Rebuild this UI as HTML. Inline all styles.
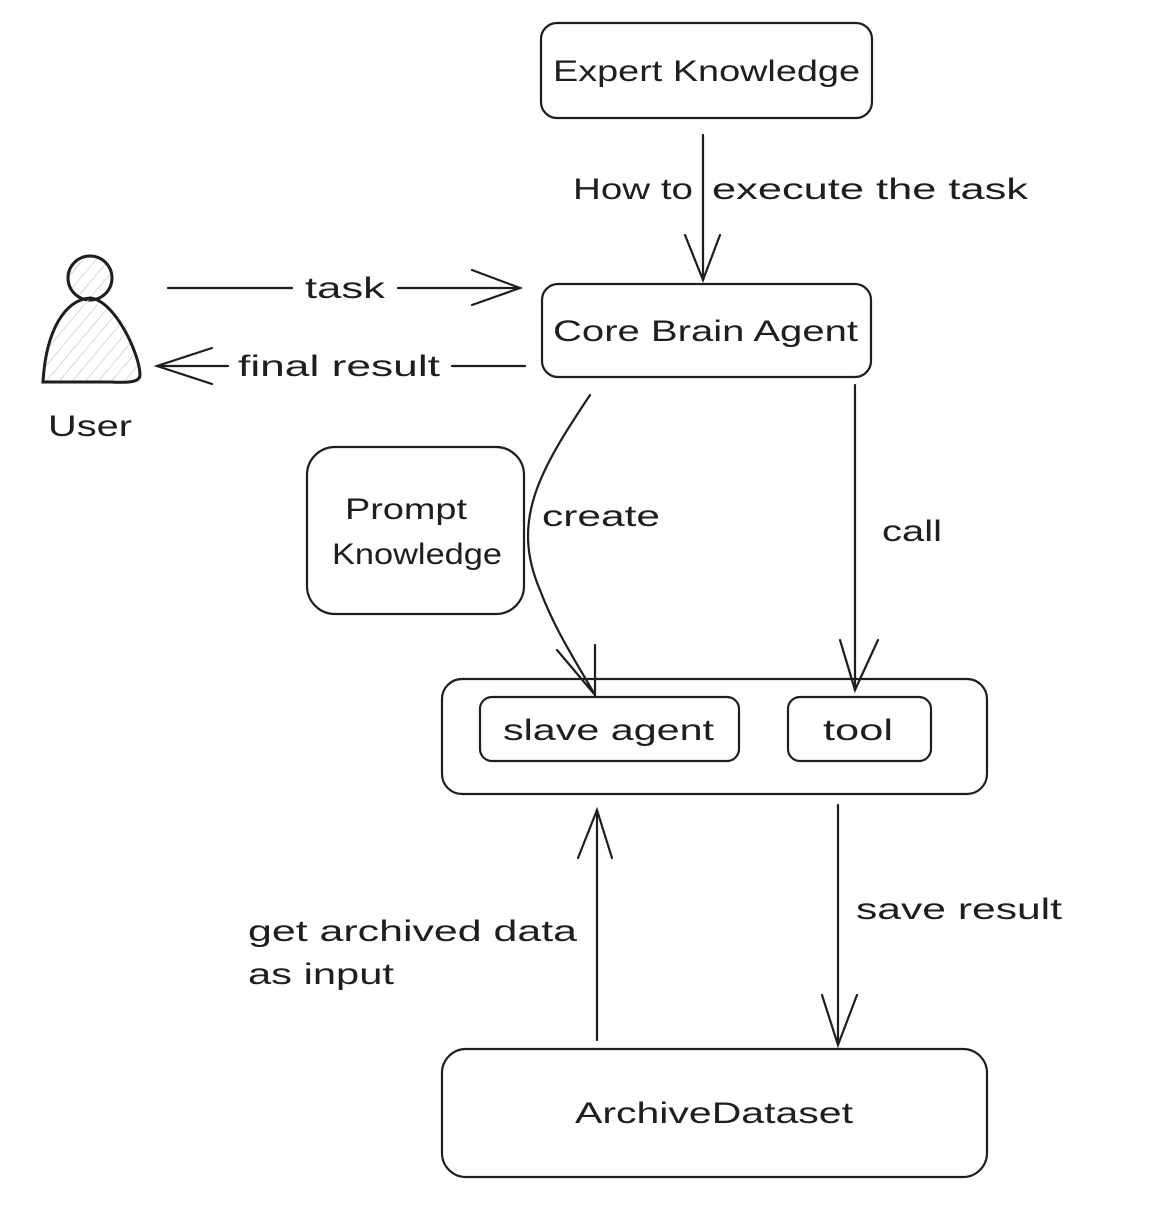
<!DOCTYPE html>
<html><head><meta charset="utf-8"><style>
html,body{margin:0;padding:0;background:#fff;}
svg{display:block}
text{font-family:"Liberation Sans",sans-serif;fill:#1e1e1e;font-size:30px}
</style></head><body>
<svg width="1154" height="1224" viewBox="0 0 1154 1224" xmlns="http://www.w3.org/2000/svg">
<defs>
<pattern id="h" width="10" height="10" patternUnits="userSpaceOnUse" patternTransform="rotate(40)">
<line x1="0" y1="0" x2="0" y2="10" stroke="#c8cdd6" stroke-width="1.5"/></pattern>
</defs>
<g fill="none" stroke="#1e1e1e" stroke-width="2.2" stroke-linecap="round">
<rect x="541" y="23" width="331" height="95" rx="16"/>
<rect x="542" y="284" width="329" height="93" rx="16"/>
<rect x="307" y="447" width="217" height="167" rx="28"/>
<rect x="442" y="679" width="545" height="115" rx="20"/>
<rect x="480" y="697" width="259" height="64" rx="12"/>
<rect x="788" y="697" width="143" height="64" rx="12"/>
<rect x="442" y="1049" width="545" height="128" rx="24"/>
<circle cx="90" cy="278" r="22" fill="url(#h)" stroke-width="3"/>
<path d="M43,382 C46,330 65,300 90,298 C115,300 140,355 140,375 C140,382 130,383 110,382 Z" fill="url(#h)" stroke-width="3"/>
<line x1="703" y1="135" x2="703" y2="280"/>
<path d="M685,235 L703,280 L720,235"/>
<line x1="168" y1="288" x2="292" y2="288"/>
<line x1="398" y1="288" x2="520" y2="288"/>
<path d="M472,270 L520,288 L472,305"/>
<line x1="452" y1="366" x2="525" y2="366"/>
<line x1="157" y1="366" x2="228" y2="366"/>
<path d="M212,348 L157,366 L212,384"/>
<path d="M590,395 C540,470 510,520 540,590 C555,630 575,660 595,695"/>
<path d="M557,650 L595,695 L595,645"/>
<line x1="855" y1="385" x2="855" y2="690"/>
<path d="M840,640 L855,690 L878,640"/>
<line x1="597" y1="1040" x2="597" y2="810"/>
<path d="M578,858 L597,810 L612,858"/>
<line x1="838" y1="805" x2="838" y2="1045"/>
<path d="M822,995 L838,1045 L857,995"/>
</g>
<text x="553" y="81" textLength="307" lengthAdjust="spacingAndGlyphs">Expert Knowledge</text>
<text x="573" y="199" textLength="120" lengthAdjust="spacingAndGlyphs">How to</text>
<text x="712" y="199" textLength="316" lengthAdjust="spacingAndGlyphs">execute the task</text>
<text x="553" y="341" textLength="305" lengthAdjust="spacingAndGlyphs">Core Brain Agent</text>
<text x="305" y="298" textLength="80" lengthAdjust="spacingAndGlyphs">task</text>
<text x="238" y="376" textLength="202" lengthAdjust="spacingAndGlyphs">final result</text>
<text x="48" y="436" textLength="84" lengthAdjust="spacingAndGlyphs">User</text>
<text x="345" y="519" textLength="122" lengthAdjust="spacingAndGlyphs">Prompt</text>
<text x="332" y="564" textLength="170" lengthAdjust="spacingAndGlyphs">Knowledge</text>
<text x="542" y="526" textLength="118" lengthAdjust="spacingAndGlyphs">create</text>
<text x="882" y="541" textLength="60" lengthAdjust="spacingAndGlyphs">call</text>
<text x="503" y="740" textLength="211" lengthAdjust="spacingAndGlyphs">slave agent</text>
<text x="823" y="740" textLength="70" lengthAdjust="spacingAndGlyphs">tool</text>
<text x="248" y="941" textLength="329" lengthAdjust="spacingAndGlyphs">get archived data</text>
<text x="248" y="984" textLength="146" lengthAdjust="spacingAndGlyphs">as input</text>
<text x="856" y="919" textLength="206" lengthAdjust="spacingAndGlyphs">save result</text>
<text x="575" y="1123" textLength="278" lengthAdjust="spacingAndGlyphs">ArchiveDataset</text>
</svg>
</body></html>
